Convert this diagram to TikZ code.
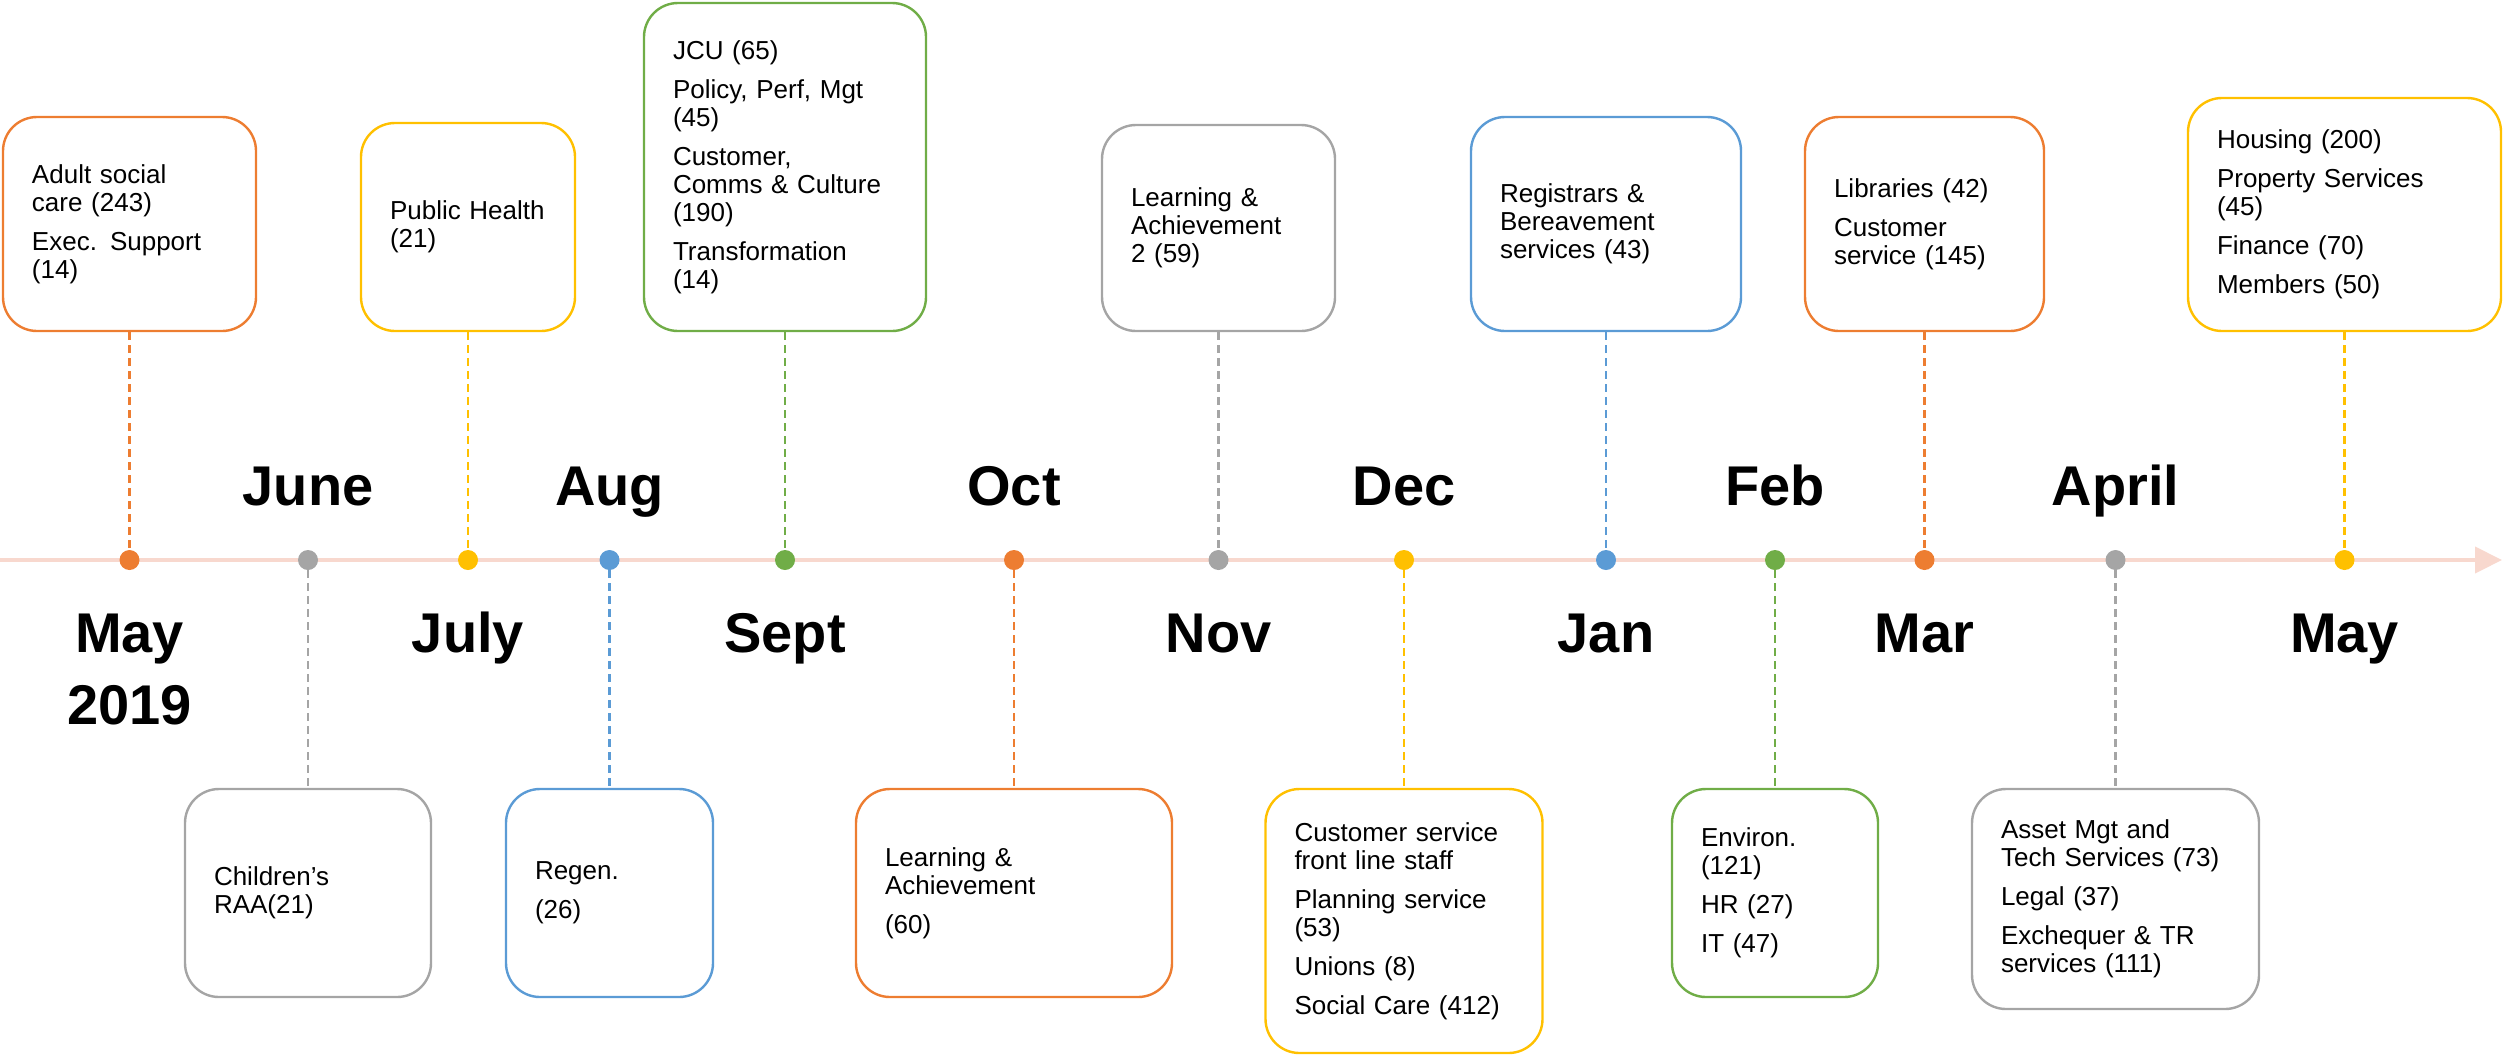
\documentclass[tikz,border=0pt]{standalone}
\usepackage{fontspec}
\setmainfont{Liberation Sans}
\usetikzlibrary{arrows.meta}
\definecolor{cOrange}{RGB}{237,125,49}
\definecolor{cGray}{RGB}{165,165,165}
\definecolor{cYellow}{RGB}{255,192,0}
\definecolor{cBlue}{RGB}{91,155,213}
\definecolor{cGreen}{RGB}{112,173,71}
\definecolor{cLine}{RGB}{248,216,206}
\newcommand\bxfont{\fontsize{13}{14}\selectfont}
\newcommand\mnfont{\fontsize{28}{36}\selectfont\bfseries}
\newcommand\gp{\\[5.5pt]}
\begin{document}
\begin{tikzpicture}[x=0.5pt,y=-0.5pt,
  tbox/.style={draw=#1, rounded corners=17pt, line width=1.2pt, align=left,
    inner xsep=14.5pt, inner ysep=0pt, font=\bxfont, text=black},
  dotn/.style={circle, fill=#1, draw=none, inner sep=0pt, minimum size=10pt},
  conn/.style={draw=#1, line width=1.1pt, dash pattern=on 4pt off 2.5pt},
  month/.style={font=\mnfont, anchor=base, inner sep=0pt, align=center}]
\useasboundingbox (0,0) rectangle (2504,1055);

% timeline
\coordinate (tl0) at (0,560);
\coordinate (tl1) at (2502,560);
\draw[cLine, line width=2pt, -{Triangle[length=13.5pt,width=13pt]}] (tl0) -- (tl1);

% top boxes
\node[tbox=cOrange, text width=97.5pt, minimum height=107pt] (b1) at (129.5,224)
  {Adult social\\care (243)\gp Exec. Support\\(14)};
\node[tbox=cYellow, text width=78pt, minimum height=104pt] (b2) at (468,227)
  {Public~Health\\(21)};
\node[tbox=cGreen, text width=112pt, minimum height=164pt] (b3) at (785,167)
  {JCU (65)\gp Policy, Perf, Mgt\\(45)\gp Customer,\\Comms \& Culture\\(190)\gp Transformation\\(14)};
\node[tbox=cGray, text width=87.5pt, minimum height=103pt] (b4) at (1218.5,228)
  {Learning \&\\Achievement\\2 (59)};
\node[tbox=cBlue, text width=106pt, minimum height=107pt] (b5) at (1606,224)
  {Registrars \&\\Bereavement\\services (43)};
\node[tbox=cOrange, text width=90.5pt, minimum height=107pt] (b6) at (1924.5,224)
  {Libraries (42)\gp Customer\\service (145)};
\node[tbox=cYellow, text width=127.5pt, minimum height=116.5pt] (b7) at (2344.5,214.5)
  {Housing (200)\gp Property Services\\(45)\gp Finance (70)\gp Members (50)};

% bottom boxes
\node[tbox=cGray, text width=94pt, minimum height=104pt] (b8) at (308,893)
  {Children's\\RAA(21)};
\node[tbox=cBlue, text width=74.5pt, minimum height=104pt] (b9) at (609.5,893)
  {Regen.\gp (26)};
\node[tbox=cOrange, text width=129pt, minimum height=104pt] (b10) at (1014,893)
  {Learning \&\\Achievement\gp (60)};
\node[tbox=cYellow, text width=109.5pt, minimum height=132pt] (b11) at (1404,921)
  {Customer service\\front line staff\gp Planning service\\(53)\gp Unions (8)\gp Social Care (412)};
\node[tbox=cGreen, text width=74pt, minimum height=104pt] (b12) at (1775,893)
  {Environ.\\(121)\gp HR (27)\gp IT (47)};
\node[tbox=cGray, text width=114.5pt, minimum height=110pt] (b13) at (2115.5,899)
  {Asset Mgt and\\Tech~Services~(73)\gp Legal (37)\gp Exchequer \& TR\\services (111)};

% dots
\node[dotn=cOrange] (d1) at (129.5,560) {};
\node[dotn=cGray] (d2) at (308,560) {};
\node[dotn=cYellow] (d3) at (468,560) {};
\node[dotn=cBlue] (d4) at (609.5,560) {};
\node[dotn=cGreen] (d5) at (785,560) {};
\node[dotn=cOrange] (d6) at (1014,560) {};
\node[dotn=cGray] (d7) at (1218.5,560) {};
\node[dotn=cYellow] (d8) at (1404,560) {};
\node[dotn=cBlue] (d9) at (1606,560) {};
\node[dotn=cGreen] (d10) at (1775,560) {};
\node[dotn=cOrange] (d11) at (1924.5,560) {};
\node[dotn=cGray] (d12) at (2115.5,560) {};
\node[dotn=cYellow] (d13) at (2344.5,560) {};

% connectors
\draw[conn=cOrange] (b1.south) -- (d1.north);
\draw[conn=cYellow] (b2.south) -- (d3.north);
\draw[conn=cGreen] (b3.south) -- (d5.north);
\draw[conn=cGray] (b4.south) -- (d7.north);
\draw[conn=cBlue] (b5.south) -- (d9.north);
\draw[conn=cOrange] (b6.south) -- (d11.north);
\draw[conn=cYellow] (b7.south) -- (d13.north);
\draw[conn=cGray] (d2.south) -- (b8.north);
\draw[conn=cBlue] (d4.south) -- (b9.north);
\draw[conn=cOrange] (d6.south) -- (b10.north);
\draw[conn=cYellow] (d8.south) -- (b11.north);
\draw[conn=cGreen] (d10.south) -- (b12.north);
\draw[conn=cGray] (d12.south) -- (b13.north);

% month labels
\node[month] (mJun) at (308,505) {June};
\node[month] (mAug) at (609.5,505) {Aug};
\node[month] (mOct) at (1014,505) {Oct};
\node[month] (mDec) at (1404,505) {Dec};
\node[month] (mFeb) at (1775,505) {Feb};
\node[month] (mApr) at (2115.5,505) {April};
\node[month] (mMay) at (129.5,724) {May\\2019};
\node[month] (mJul) at (468,652) {July};
\node[month] (mSep) at (785,652) {Sept};
\node[month] (mNov) at (1218.5,652) {Nov};
\node[month] (mJan) at (1606,652) {Jan};
\node[month] (mMar) at (1924.5,652) {Mar};
\node[month] (mMay2) at (2344.5,652) {May};
\end{tikzpicture}
\end{document}
